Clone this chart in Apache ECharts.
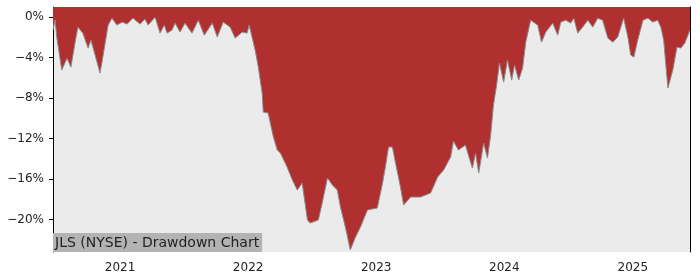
<!DOCTYPE html>
<html><head><meta charset="utf-8">
<script src="https://cdn.jsdelivr.net/npm/echarts@6/dist/echarts.min.js"></script>
<style>html,body{margin:0;padding:0;background:#fff}#c{width:700px;height:280px}</style>
</head><body><div id="c"></div>
<script>
const titleText = 'JLS (NYSE) - Drawdown Chart';
const dates = [
'2020-06-24','2020-06-30','2020-07-05','2020-07-19','2020-08-03','2020-08-14','2020-08-26','2020-09-03','2020-09-17','2020-10-02',
'2020-10-10','2020-10-22','2020-11-05','2020-11-13','2020-11-28','2020-12-09','2020-12-23','2021-01-07','2021-01-21','2021-02-07',
'2021-02-27','2021-03-13','2021-03-22','2021-04-11','2021-04-25','2021-05-07','2021-05-15','2021-05-29','2021-06-07','2021-06-21',
'2021-07-05','2021-07-25','2021-08-12','2021-08-29','2021-09-21','2021-10-05','2021-10-22','2021-11-11','2021-11-25','2021-12-15',
'2021-12-29','2022-01-04','2022-01-21','2022-01-30','2022-02-10','2022-02-13','2022-02-27','2022-03-14','2022-03-25','2022-04-03',
'2022-04-22','2022-05-07','2022-05-21','2022-06-04','2022-06-19','2022-06-27','2022-07-20','2022-07-31','2022-08-15','2022-08-29',
'2022-09-12','2022-09-21','2022-10-05','2022-10-19','2022-11-03','2022-11-17','2022-12-07','2023-01-04','2023-01-19','2023-01-27',
'2023-02-05','2023-02-16','2023-02-25','2023-03-11','2023-03-20','2023-04-09','2023-05-07','2023-06-05','2023-06-25','2023-07-12',
'2023-08-01','2023-08-09','2023-08-23','2023-09-12','2023-10-02','2023-10-11','2023-10-20','2023-11-03','2023-11-14','2023-11-23',
'2023-12-01','2023-12-10','2023-12-18','2023-12-30','2024-01-10','2024-01-22','2024-01-30','2024-02-11','2024-02-22','2024-03-02',
'2024-03-16','2024-04-05','2024-04-16','2024-04-28','2024-05-18','2024-06-01','2024-06-10','2024-06-24','2024-07-08','2024-07-17',
'2024-07-28','2024-08-11','2024-08-26','2024-09-09','2024-09-23','2024-10-07','2024-10-22','2024-11-05','2024-11-19','2024-12-06',
'2024-12-18','2024-12-26','2025-01-04','2025-01-15','2025-01-30','2025-02-13','2025-02-27','2025-03-13','2025-03-22','2025-03-30',
'2025-04-11','2025-04-25','2025-05-07','2025-05-18','2025-05-29','2025-06-13'
];
const drawdown = [
-1.28,-0.30,-2.07,-5.23,-4.05,-4.94,-2.47,-0.99,-1.58,-3.06,
-2.27,-3.75,-5.53,-3.95,-0.79,-0.10,-0.79,-0.49,-0.69,-0.10,
-0.69,-0.20,-0.79,0,-1.58,-0.79,-1.58,-1.28,-0.59,-1.48,
-0.59,-1.58,-0.30,-1.78,-0.59,-1.97,-0.49,-0.99,-2.07,-1.48,
-1.58,-0.79,-3.26,-4.94,-7.50,-9.38,-9.48,-11.85,-13.13,-13.43,
-14.81,-16.09,-17.08,-16.39,-20.04,-20.34,-20.04,-18.36,-15.89,-16.58,
-17.08,-18.76,-20.73,-23.00,-21.72,-20.73,-19.05,-18.85,-16.39,-14.81,
-12.83,-12.83,-14.41,-16.78,-18.56,-17.77,-17.77,-17.37,-15.79,-15.10,
-13.82,-12.24,-13.13,-12.64,-14.91,-13.43,-15.40,-12.44,-13.92,-11.65,
-8.69,-6.71,-4.54,-6.42,-4.24,-6.22,-4.74,-6.22,-5.03,-2.47,
-0.30,-0.79,-2.47,-1.48,-0.59,-1.78,-0.49,-0.30,-0.59,-0.10,
-1.58,-0.99,-0.30,-0.99,-0.10,-0.30,-2.07,-2.47,-1.97,-0.10,
-1.97,-3.75,-3.95,-2.27,-0.30,-0.10,-0.49,-0.30,-0.99,-2.27,
-7.01,-5.23,-2.96,-3.06,-2.57,-1.28
];
const yTicks = [0,-4,-8,-12,-16,-20];
const xTickDates = ['2021-01-01','2022-01-01','2023-01-01','2024-01-01','2025-01-01'];
const yMin = -23.2, yMax = 1;

const ts = d => Date.parse(d + 'T00:00:00Z');
const xTicks = xTickDates.map(ts);
const xMin = ts(dates[0]), xMax = ts(dates[dates.length - 1]);
const font = 'DejaVu Sans';
const chart = echarts.init(document.getElementById('c'), null, {renderer: 'canvas'});
chart.setOption({
  animation: false,
  backgroundColor: '#ffffff',
  title: {
    text: titleText, left: 53, bottom: 28,
    backgroundColor: '#b3b3b3', padding: [2, 3, 1, 2], itemGap: 0,
    textStyle: {fontFamily: font, fontSize: 14, fontWeight: 'normal', color: '#222', lineHeight: 16}, z: 10
  },
  grid: {left: 53, right: 10, top: 7, bottom: 28, show: true, backgroundColor: '#ebebeb', borderWidth: 0},
  xAxis: [{
    type: 'value', min: xMin, max: xMax,
    axisLine: {show: true, lineStyle: {color: '#000', width: 1}},
    axisTick: {show: true, length: 4, lineStyle: {color: '#000'}, customValues: xTicks},
    axisLabel: {customValues: xTicks, formatter: v => String(new Date(v).getUTCFullYear()),
      fontFamily: font, fontSize: 12, color: '#222', margin: 10},
    splitLine: {show: false}
  }, {
    type: 'value', min: xMin, max: xMax, position: 'top',
    axisLine: {show: true, lineStyle: {color: '#000', width: 1}},
    axisTick: {show: false}, axisLabel: {show: false}, splitLine: {show: false}
  }],
  yAxis: [{
    type: 'value', min: yMin, max: yMax,
    axisLine: {show: true, lineStyle: {color: '#000', width: 1}},
    axisTick: {show: true, length: 4, lineStyle: {color: '#000'}, customValues: yTicks},
    axisLabel: {customValues: yTicks, formatter: v => (v < 0 ? '\u2212' : '') + Math.abs(v) + '%',
      fontFamily: font, fontSize: 12, color: '#222', margin: 9},
    splitLine: {show: false}
  }, {
    type: 'value', min: yMin, max: yMax, position: 'right',
    axisLine: {show: true, lineStyle: {color: '#000', width: 1}},
    axisTick: {show: false}, axisLabel: {show: false}, splitLine: {show: false}
  }],
  series: [{
    type: 'line', xAxisIndex: 0, yAxisIndex: 0,
    data: dates.map((d, i) => [ts(d), drawdown[i]]),
    showSymbol: false, symbol: 'none',
    lineStyle: {color: '#8a8a8a', width: 1},
    areaStyle: {color: '#b03030', opacity: 1, origin: 'end'},
    z: 2
  }]
});
</script></body></html>
